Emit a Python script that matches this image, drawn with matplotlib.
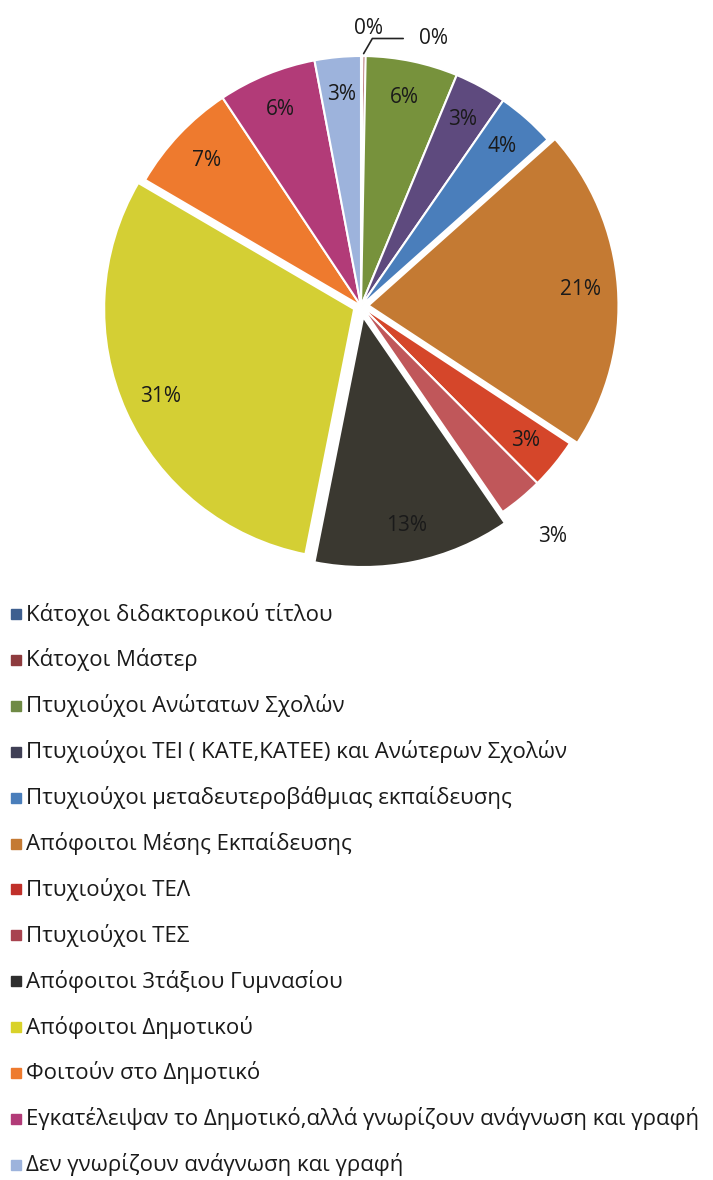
import matplotlib
matplotlib.use("Agg")
import matplotlib.pyplot as plt
import numpy as np
from matplotlib.patches import Rectangle

categories = [
    "Κάτοχοι διδακτορικού τίτλου",
    "Κάτοχοι Μάστερ",
    "Πτυχιούχοι Ανώτατων Σχολών",
    "Πτυχιούχοι ΤΕΙ ( ΚΑΤΕ,ΚΑΤΕΕ) και Ανώτερων Σχολών",
    "Πτυχιούχοι μεταδευτεροβάθμιας εκπαίδευσης",
    "Απόφοιτοι Μέσης Εκπαίδευσης",
    "Πτυχιούχοι ΤΕΛ",
    "Πτυχιούχοι ΤΕΣ",
    "Απόφοιτοι 3τάξιου Γυμνασίου",
    "Απόφοιτοι Δημοτικού",
    "Φοιτούν στο Δημοτικό",
    "Εγκατέλειψαν το Δημοτικό,αλλά γνωρίζουν ανάγνωση και γραφή",
    "Δεν γνωρίζουν ανάγνωση και γραφή",
]
values = [0.1, 0.2, 6.0, 3.4, 3.8, 21.0, 3.3, 2.9, 12.8, 30.5, 7.3, 6.4, 3.0]
pct_labels = ["0%", "0%", "6%", "3%", "4%", "21%", "3%", "3%", "13%", "31%", "7%", "6%", "3%"]
colors = ["#4A6A9A", "#9B3B3B", "#77923C", "#5E4A7E", "#4A7EBB", "#C47A33",
          "#D5462A", "#C0575A", "#3A3830", "#D4CF34", "#EE7A2E", "#B23B78", "#9DB3DC"]
legend_colors = ["#3E5F8F", "#8E3B3E", "#6F8A45", "#3F3F55", "#4A7EBB", "#C47A33",
                 "#C0302A", "#A8434F", "#2E2E2E", "#D9D22A", "#EE7A2E", "#B23B78", "#9DB3DC"]
explode = [0, 0, 0, 0, 0, 0.03, 0, 0, 0.045, 0.03, 0, 0, 0]

plt.rcParams['font.family'] = ['Open Sans', 'DejaVu Sans']

W, H = 713, 1180
fig = plt.figure(figsize=(W / 100, H / 100), dpi=100)
cx, cy, R = 361, 306, 250
L = 1.3
half = L * R
ax = fig.add_axes([(cx - half) / W, 1 - (cy + half) / H, 2 * half / W, 2 * half / H])

wedges, texts = ax.pie(values, labels=pct_labels, colors=colors, explode=explode,
                       startangle=90, counterclock=False, labeldistance=0.85,
                       wedgeprops=dict(edgecolor="white", linewidth=1.5),
                       textprops=dict(fontsize=15, color="#1a1a1a"))
ax.set_xlim(-L, L)
ax.set_ylim(-L, L)
ax.set_aspect("equal")
ax.axis("off")

for t in texts:
    t.set_ha("center")
    t.set_va("center")

# special labels for the two tiny slices
texts[0].set_position((0.03, 1.11))
texts[1].set_position((0.29, 1.07))
ax.annotate("", xy=(0.005, 1.0), xytext=(0.18, 1.07),
            arrowprops=dict(arrowstyle="-", color="#222222", lw=1.2,
                            connectionstyle="angle,angleA=0,angleB=60,rad=0"))
# ΤΕΣ label outside
ang = np.deg2rad(90 - (sum(values[:7]) + values[7] / 2) / sum(values) * 360)
texts[7].set_position((1.2 * np.cos(ang), 1.2 * np.sin(ang)))

# legend
y0 = 614
dy = 45.9
for i, (lab, c) in enumerate(zip(categories, legend_colors)):
    y = y0 + i * dy
    fig.patches.append(Rectangle((11 / W, 1 - (y + 5) / H), 10 / W, 10 / H,
                                 transform=fig.transFigure, color=c))
    fig.text(26 / W, 1 - y / H, lab, fontsize=16, va="center", ha="left",
             color="#1a1a1a")

fig.savefig("out.png", dpi=100, facecolor="white")
